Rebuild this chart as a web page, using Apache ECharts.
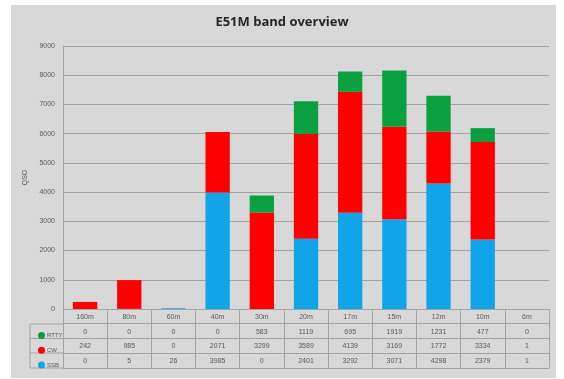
<!DOCTYPE html>
<html>
<head>
<meta charset="utf-8">
<script src="https://cdn.jsdelivr.net/npm/echarts@6/dist/echarts.min.js"></script>
<style>
  body { margin: 0; background: #fff; }
  #chart { width: 564px; height: 379px; }
</style>
</head>
<body>
<div id="chart"></div>
<script>
// bands and QSO counts per mode
var bands = ['160m', '80m', '60m', '40m', '30m', '20m', '17m', '15m', '12m', '10m', '6m'];
var rtty = [0, 0, 0, 0, 583, 1119, 695, 1919, 1231, 477, 0];
var cw = [242, 985, 0, 2071, 3299, 3589, 4139, 3169, 1772, 3334, 1];
var ssb = [0, 5, 26, 3985, 0, 2401, 3292, 3071, 4298, 2379, 1];

var lineColor = '#a3a3a3';
var textColor = '#595959';

// one axis per row of the data table under the chart
function tableRow(values, offset, showLabel) {
    return {
        type: 'category',
        position: 'bottom',
        offset: offset,
        data: values.map(String),
        axisLine: {lineStyle: {color: lineColor, width: 1}},
        axisTick: {show: false},
        axisLabel: {show: showLabel, fontSize: 7, color: textColor, margin: 5}
    };
}

var chart = echarts.init(document.getElementById('chart'));
var option = {
    backgroundColor: '#fff',
    animation: false,
    title: {
        text: 'E51M band overview',
        left: 'center',
        top: 11,
        textStyle: {fontFamily: 'Open Sans', fontSize: 13, fontWeight: 'bold', color: '#262626'}
    },
    legend: {
        orient: 'vertical',
        left: 33,
        top: 327,
        data: ['RTTY', 'CW', 'SSB'],
        icon: 'circle',
        itemWidth: 7,
        itemHeight: 7,
        itemGap: 7.7,
        textStyle: {fontSize: 6, color: textColor, padding: [0, 0, 0, -3]}
    },
    graphic: [
        {type: 'rect', z: -10, shape: {x: 11, y: 5, width: 545, height: 373}, style: {fill: '#d8d8d8'}},
        {type: 'line', shape: {x1: 30, y1: 324, x2: 63, y2: 324}, style: {stroke: lineColor}},
        {type: 'line', shape: {x1: 30, y1: 338.5, x2: 63, y2: 338.5}, style: {stroke: lineColor}},
        {type: 'line', shape: {x1: 30, y1: 353, x2: 63, y2: 353}, style: {stroke: lineColor}},
        {type: 'line', shape: {x1: 30, y1: 368, x2: 63, y2: 368}, style: {stroke: lineColor}},
        {type: 'line', shape: {x1: 30, y1: 324, x2: 30, y2: 368}, style: {stroke: lineColor}}
    ],
    grid: {left: 63, right: 15, top: 46, bottom: 70},
    xAxis: [
        {
            type: 'category',
            data: bands,
            axisLine: {lineStyle: {color: lineColor}},
            axisTick: {show: true, length: 59, lineStyle: {color: lineColor}},
            axisLabel: {fontSize: 7, color: textColor, margin: 5}
        },
        tableRow(rtty, 14.5, true),
        tableRow(cw, 29, true),
        tableRow(ssb, 44, true),
        tableRow(bands, 59, false)
    ],
    yAxis: {
        type: 'value',
        name: 'QSO',
        nameLocation: 'middle',
        nameGap: 30,
        nameTextStyle: {fontSize: 7, color: textColor},
        min: 0,
        max: 9000,
        interval: 1000,
        axisLine: {show: true, lineStyle: {color: lineColor}},
        axisTick: {show: false},
        axisLabel: {
            fontSize: 7,
            color: textColor,
            margin: 8,
            formatter: function (v) { return String(v); }
        },
        splitLine: {lineStyle: {color: lineColor}}
    },
    series: [
        {name: 'SSB', type: 'bar', stack: 'qso', data: ssb, barWidth: '55%', itemStyle: {color: '#10a4e8'}},
        {name: 'CW', type: 'bar', stack: 'qso', data: cw, barWidth: '55%', itemStyle: {color: '#ff0000'}},
        {name: 'RTTY', type: 'bar', stack: 'qso', data: rtty, barWidth: '55%', itemStyle: {color: '#0aa040'}}
    ]
};
chart.setOption(option);
</script>
</body>
</html>
